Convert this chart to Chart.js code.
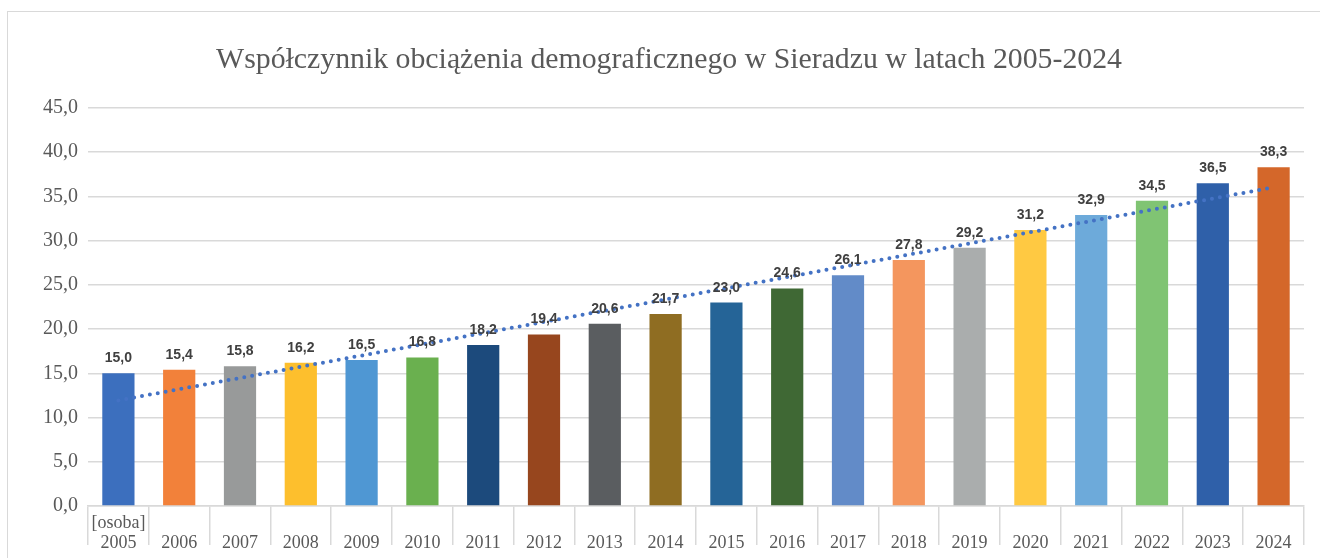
<!DOCTYPE html>
<html>
<head>
<meta charset="utf-8">
<script src="https://cdn.jsdelivr.net/npm/chart.js@4.4.1/dist/chart.umd.min.js"></script>
<style>
  html, body { margin: 0; padding: 0; background: #ffffff; overflow: hidden; }
  #wrap { position: relative; width: 1320px; height: 558px; }
  #frame { position: absolute; left: 7px; top: 11px; width: 1400px; height: 700px; border: 1.5px solid #D9D9D9; box-sizing: border-box; }
  canvas { position: absolute; left: 0; top: 0; }
</style>
</head>
<body>
<div id="wrap">
  <div id="frame"></div>
  <canvas id="c" width="1320" height="558"></canvas>
</div>
<script>
const titleText = 'Współczynnik obciążenia demograficznego w Sieradzu w latach 2005-2024';
const unitLabel = '[osoba]';
const years = ['2005','2006','2007','2008','2009','2010','2011','2012','2013','2014','2015','2016','2017','2018','2019','2020','2021','2022','2023','2024'];
const values = [15.0,15.4,15.8,16.2,16.5,16.8,18.2,19.4,20.6,21.7,23.0,24.6,26.1,27.8,29.2,31.2,32.9,34.5,36.5,38.3];
const barColors = ['#3C6FBE','#F2813A','#989A9A','#FDBF2D','#4F97D3','#6AB04F','#1C4A7C','#97461E','#5A5D60','#8F6D22','#256497','#3F6834','#628BC8','#F4965E','#AAADAD','#FFC942','#6DAADA','#80C473','#2F60A9','#D4672A'];
const yTicks = [0,5,10,15,20,25,30,35,40,45];

// linear trend line (least squares) of the values, as the original chart's trendline
const n = values.length;
const meanX = (n - 1) / 2;
const meanY = values.reduce((a, b) => a + b, 0) / n;
let sxy = 0, sxx = 0;
values.forEach((v, i) => { sxy += (i - meanX) * (v - meanY); sxx += (i - meanX) * (i - meanX); });
const slope = sxy / sxx;
const intercept = meanY - slope * meanX;
const trend = values.map((v, i) => intercept + slope * i);

const labels = years.map((y, i) => i === 0 ? [unitLabel, y] : ['', y]);
const fmt = v => v.toFixed(1).replace('.', ',');

const titlePlugin = {
  id: 'customTitle',
  afterDraw(chart) {
    const ctx = chart.ctx;
    ctx.save();
    ctx.font = '29.8px "Liberation Serif", "Times New Roman", serif';
    ctx.fillStyle = '#595959';
    ctx.textAlign = 'center';
    ctx.textBaseline = 'alphabetic';
    ctx.fillText(titleText, 669, 68);
    ctx.restore();
  }
};

const valueLabels = {
  id: 'valueLabels',
  afterDatasetsDraw(chart) {
    const ctx = chart.ctx;
    const meta = chart.getDatasetMeta(0);
    ctx.save();
    ctx.font = 'bold 14px "Liberation Sans", Arial, sans-serif';
    ctx.fillStyle = '#404040';
    ctx.textAlign = 'center';
    ctx.textBaseline = 'alphabetic';
    meta.data.forEach((bar, i) => {
      ctx.fillText(fmt(values[i]), bar.x, bar.y - 11);
    });
    ctx.restore();
  }
};

new Chart(document.getElementById('c'), {
  data: {
    labels: labels,
    datasets: [
      {
        type: 'bar',
        data: values,
        backgroundColor: barColors,
        categoryPercentage: 1.0,
        barPercentage: 0.53,
        order: 2
      },
      {
        type: 'line',
        data: trend,
        borderColor: '#4472C4',
        borderWidth: 4,
        borderDash: [0, 8],
        borderCapStyle: 'round',
        pointRadius: 0,
        fill: false,
        tension: 0,
        order: 1
      }
    ]
  },
  options: {
    responsive: false,
    animation: false,
    devicePixelRatio: 1,
    layout: { padding: { top: 108, left: 8, right: 16, bottom: 0 } },
    plugins: {
      legend: { display: false },
      title: { display: false },
      tooltip: { enabled: false }
    },
    scales: {
      x: {
        offset: true,
        grid: {
          offset: true,
          drawOnChartArea: false,
          drawTicks: true,
          tickLength: 39,
          color: '#D9D9D9',
          lineWidth: 1.5
        },
        border: { display: true, color: '#D9D9D9', width: 1.5 },
        ticks: {
          autoSkip: false,
          maxRotation: 0,
          color: '#595959',
          padding: -31,
          font: { family: '"Liberation Serif", "Times New Roman", serif', size: 18, lineHeight: 1.08 }
        },
        afterFit(scale) { scale.height = 52; }
      },
      y: {
        min: 0,
        max: 45,
        afterBuildTicks(scale) { scale.ticks = yTicks.map(v => ({ value: v })); },
        grid: { color: '#D9D9D9', lineWidth: 1.5, drawTicks: false },
        border: { display: false },
        ticks: {
          color: '#595959',
          padding: 10,
          font: { family: '"Liberation Serif", "Times New Roman", serif', size: 20 },
          callback: v => fmt(v)
        },
        afterFit(scale) { scale.width = 80; }
      }
    }
  },
  plugins: [titlePlugin, valueLabels]
});
</script>
</body>
</html>
